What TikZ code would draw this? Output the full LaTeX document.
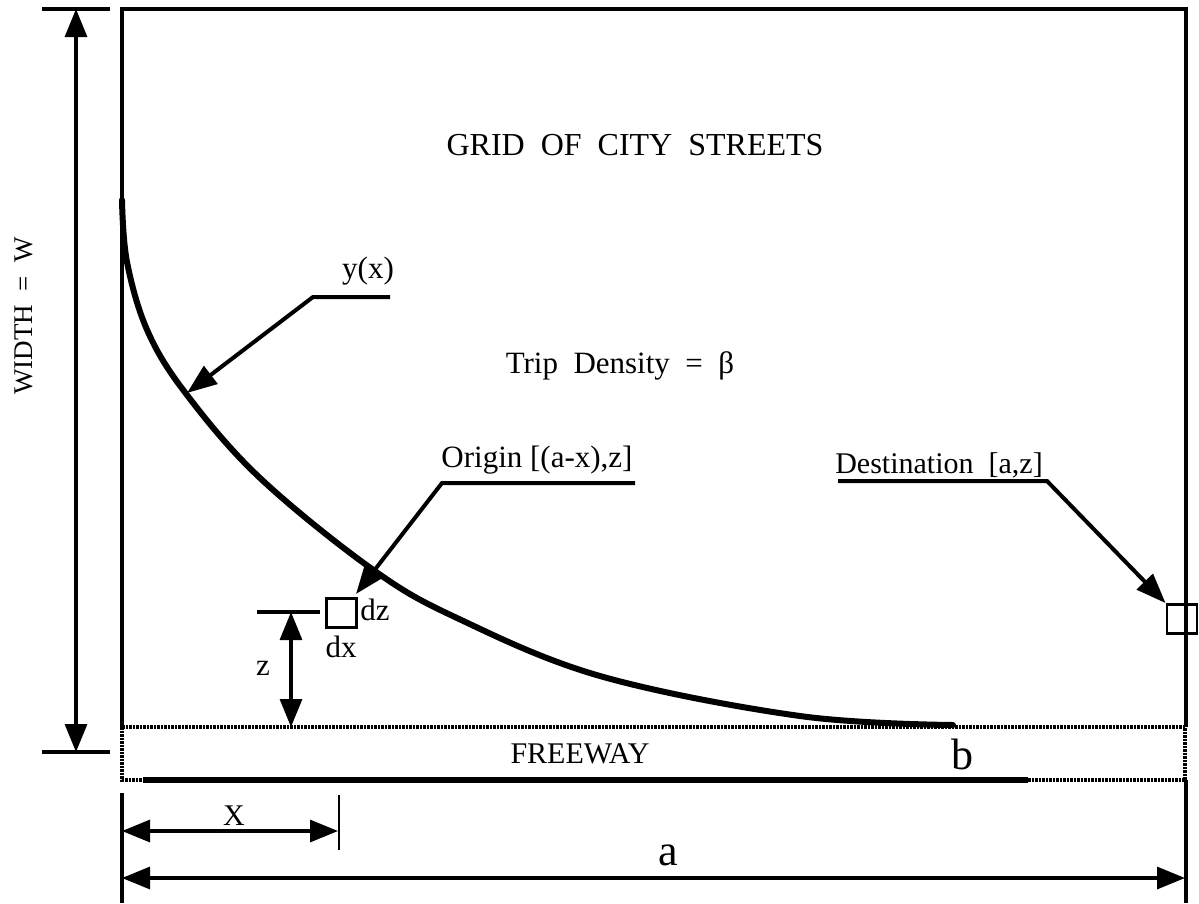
\documentclass[tikz,border=0pt]{standalone}
\usepackage{fontspec}
\setmainfont{Liberation Serif}
\usetikzlibrary{arrows.meta,positioning}

\begin{document}
\begin{tikzpicture}[
    x=1pt, y=-1pt,
    every node/.style={inner sep=0pt, anchor=base, font=\fontsize{31}{36}\selectfont},
    frm/.style={line width=3.2pt},
    road/.style={line width=4pt, dash pattern=on 2.5pt off 1pt},
    yline/.style={line width=6pt, line cap=round},
    lead/.style={line width=4pt, -{Triangle[length=30pt, width=22pt]}},
    dimarr/.style={line width=3.2pt, {Triangle[length=28pt, width=22pt]}-{Triangle[length=28pt, width=22pt]}},
    cell/.style={draw, line width=2.8pt, minimum width=30pt, minimum height=29pt, anchor=center},
    biglbl/.style={font=\fontsize{44}{50}\selectfont}
  ]
  \useasboundingbox (0,0) rectangle (1199,903);

  % ---- zone urbaine et autoroute ----------------------------------------
  \draw[frm] (122,727) -- (122,9) -- (1186,9) -- (1186,727);
  \draw[road] (122,727) rectangle (1185,780);
  \draw[line width=5.5pt] (143,780) -- (1028,780);
  \draw[frm] (122,793) -- (122,903);
  \draw[frm] (1186,780) -- (1186,903);

  \node (grid) at (635,155) {\fontsize{32}{38}\selectfont GRID\ \ OF\ \ CITY\ \ STREETS};
  \node (trip) at (620,373) {Trip\ \ Density\ \ =\ \ β};
  \node (fwy)  at (580,763) {\fontsize{30}{36}\selectfont FREEWAY};
  \node[biglbl] (b) at (962,769) {b};

  % ---- la courbe y(x) ---------------------------------------------------
  \draw[yline] plot[smooth, tension=0.6] coordinates {
    (122,200) (127,262) (148,332) (187,395) (260,478) (372,569)
    (457,618) (600,676) (800,716) (953,725)};

  % ---- largeur W ---------------------------------------------------------
  \coordinate (wtop) at (76,9);
  \coordinate (wbot) at (76,752);
  \draw[frm] (42,9) -- (110,9);
  \draw[frm] (42,752) -- (110,752);
  \draw[dimarr] (wtop) -- (wbot);
  \node[rotate=90] (width) at (32,316) {\fontsize{27}{32}\selectfont WIDTH\ \ =\ \ W};

  % ---- renvois : y(x), origine, destination ------------------------------
  \node (yx) at (368,278) {y(x)};
  \coordinate (yx-r) at (390,297);
  \coordinate (yx-k) at (313,297);
  \coordinate (yx-t) at (187,393);
  \draw[lead] (yx-r) -- (yx-k) -- (yx-t);

  \node[cell] (ocell) at (341.5,613) {};
  \node (dz) at (375,620) {dz};
  \node (dx) at (341,657) {dx};
  \node (orig) at (537,467) {Origin [(a-x),z]};
  \coordinate (orig-r) at (635,483);
  \coordinate (orig-k) at (442,483);
  \coordinate (orig-t) at (356,594);
  \draw[lead] (orig-r) -- (orig-k) -- (orig-t);

  \node[cell] (dcell) at (1182,619) {};
  \node (dest) at (939,473) {\fontsize{30}{36}\selectfont Destination\ \ [a,z]};
  \coordinate (dest-l) at (838,481);
  \coordinate (dest-k) at (1047,481);
  \draw[lead] (dest-l) -- (dest-k) -- (dcell.north west);

  % ---- cotes z, x et a ---------------------------------------------------
  \coordinate (zlev) at (291,612);
  \coordinate (zbot) at (291,727);
  \draw[frm] (257,612) -- (320,612);
  \draw[dimarr] (zlev) -- (zbot);
  \node (z) at (263,675) {z};

  \coordinate (xl) at (122,831);
  \coordinate (xr) at (338,831);
  \draw[line width=2.2pt] (339,795) -- (339,850);
  \draw[dimarr] (xl) -- (xr);
  \node (xlab) at (234,825) {\fontsize{30}{36}\selectfont X};

  \coordinate (al) at (122,878);
  \coordinate (ar) at (1185,878);
  \draw[dimarr] (al) -- (ar);
  \node[biglbl] (alab) at (668,865) {a};

\end{tikzpicture}
\end{document}
